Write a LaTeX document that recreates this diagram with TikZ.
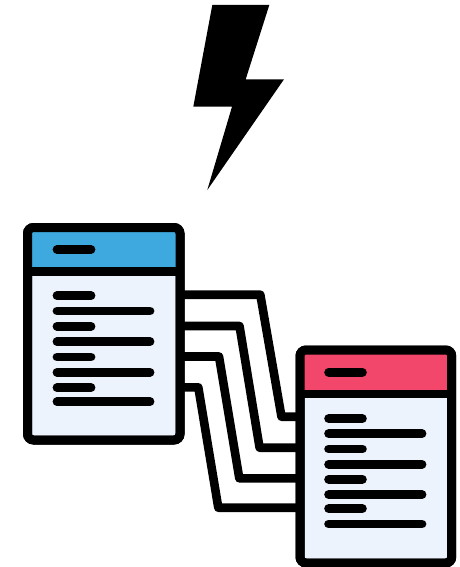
\documentclass[tikz,border=0pt]{standalone}
\definecolor{bodyblue}{HTML}{EDF3FC}
\definecolor{headblue}{HTML}{3DA9DE}
\definecolor{headred}{HTML}{F2476A}
\tikzset{
  tablebox/.style={draw=black,line width=9pt,rounded corners=6pt,fill=bodyblue,inner sep=0pt,outer sep=0pt},
  tableedge/.style={draw=black,line width=9pt,rounded corners=6pt},
  divider/.style={draw=black,line width=8.5pt},
  bar/.style={draw=black,line width=8.8pt,line cap=round},
  conn/.style={draw=black,line width=8.6pt,line join=round},
}
\begin{document}
\begin{tikzpicture}[x=1pt,y=-1pt]
\useasboundingbox (0,0) rectangle (459,567);
% lightning bolt
\fill[black] (212.3,5) -- (269.3,5) -- (245.7,79.3) -- (284,79.3) -- (207.3,190) -- (232,106.7) -- (193.3,106.7) -- cycle;
% tables
\node[tablebox,minimum width=152.5pt,minimum height=212.5pt] (lt) at (103.75,333.75) {};
\node[tablebox,minimum width=151.7pt,minimum height=213pt] (rt) at (375.85,456.5) {};
% connector bend points
\coordinate (l1) at (260.3,294.7); \coordinate (r1) at (281.5,416.7);
\coordinate (l2) at (239.5,326);   \coordinate (r2) at (259.6,447.7);
\coordinate (l3) at (219,356.5);   \coordinate (r3) at (239.3,478.3);
\coordinate (l4) at (198.3,387.3); \coordinate (r4) at (218.3,507.7);
\foreach \i in {1,2,3,4}{
  \draw[conn] (lt.east |- l\i) -- (l\i) -- (r\i) -- (rt.west |- r\i);
}
% left table header
\fill[headblue,rounded corners=6pt] (27.5,271.5) -- (27.5,227.5) -- (180,227.5) -- (180,271.5) -- cycle;
\draw[divider] (27.5,271.5) -- (180,271.5);
\draw[tableedge] (lt.north west) rectangle (lt.south east);
\draw[bar] (57,249.5) -- (91,249.5);
\foreach \y/\e in {295.7/91,311/150,326.3/91,341.7/150,357/91,372.3/150,387.7/91,401.7/150}{
  \draw[bar] (57,\y) -- (\e,\y);
}
% right table header
\fill[headred,rounded corners=6pt] (300,394) -- (300,350) -- (451.7,350) -- (451.7,394) -- cycle;
\draw[divider] (300,394) -- (451.7,394);
\draw[tableedge] (rt.north west) rectangle (rt.south east);
\draw[bar] (328.6,372.3) -- (362.4,372.3);
\foreach \y/\e in {418.7/362.4,433.7/422,449/362.4,464.3/422,479.3/362.4,494.7/422,508.7/362.4,524/422}{
  \draw[bar] (328.6,\y) -- (\e,\y);
}
\end{tikzpicture}
\end{document}
